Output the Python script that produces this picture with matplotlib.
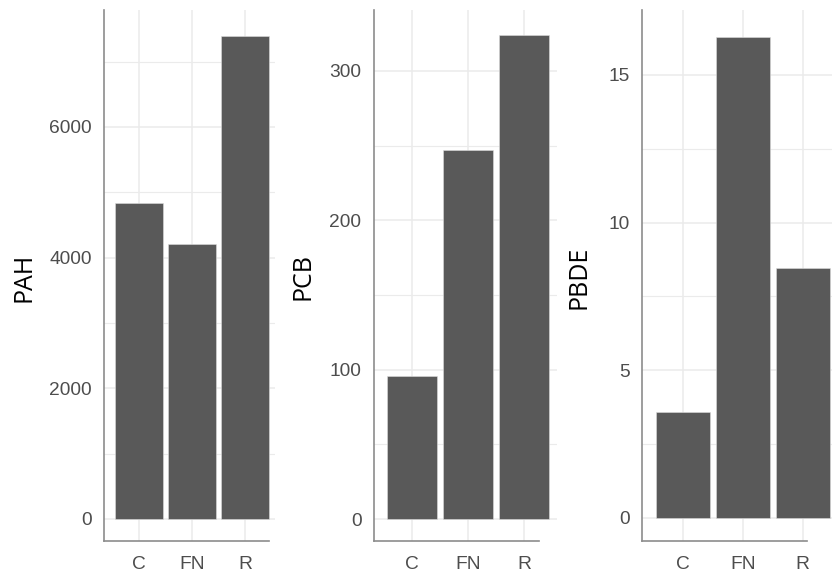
import matplotlib
matplotlib.use("Agg")
import matplotlib.pyplot as plt
from matplotlib.ticker import MultipleLocator

# data
categories = ["C", "FN", "R"]
pah = [4830, 4210, 7390]
pcb = [96, 247, 324]
pbde = [3.6, 16.3, 8.48]
labels = ["PAH", "PCB", "PBDE"]
tick_steps = [2000, 100, 5]

W, H = 832, 579
BAR = "#595959"
GRID = "#ebebeb"
AXIS = "#8c8c8c"
TXT = "#4d4d4d"

# pixel geometry of each panel (axis x, right edge, xlim, x-axis end, ylim, label x)
layout = [
    dict(left=104, right=275, xlim=(0.34, 3.57), xend=3.45, ylim=(-337, 7789), lab_x=24),
    dict(left=374, right=557, xlim=(0.32, 3.59), xend=3.27, ylim=(-14.7, 340.8), lab_x=303),
    dict(left=642, right=840, xlim=(0.32, 3.62), xend=3.07, ylim=(-0.78, 17.2), lab_x=579),
]
top, bottom = 10, 541

fig = plt.figure(figsize=(W / 100, H / 100), dpi=100)
fig.patch.set_facecolor("white")

for vals, lab, step, g in zip([pah, pcb, pbde], labels, tick_steps, layout):
    ax = fig.add_axes([g["left"] / W, 1 - bottom / H,
                       (g["right"] - g["left"]) / W, (bottom - top) / H])
    xs = range(1, len(categories) + 1)
    ax.bar(xs, vals, width=0.9, color=BAR, edgecolor="#dddddd", linewidth=0.4, zorder=3)
    ax.set_xlim(*g["xlim"])
    ax.set_ylim(*g["ylim"])
    ax.set_xticks(list(xs))
    ax.set_xticklabels(categories)
    ax.yaxis.set_major_locator(MultipleLocator(step))
    ax.yaxis.set_minor_locator(MultipleLocator(step / 2))
    ax.grid(True, which="major", color=GRID, linewidth=1.1, zorder=0)
    ax.grid(True, which="minor", axis="y", color=GRID, linewidth=0.8, zorder=0)
    ax.tick_params(which="both", length=0)
    ax.tick_params(axis="y", pad=9, labelsize=13.8, labelcolor=TXT)
    ax.tick_params(axis="x", pad=11, labelsize=13.8, labelcolor=TXT)
    for t in ax.get_xticklabels() + ax.get_yticklabels():
        t.set_fontfamily("Liberation Sans")
    for s in ["top", "right"]:
        ax.spines[s].set_visible(False)
    ax.spines["left"].set_color(AXIS)
    ax.spines["bottom"].set_color(AXIS)
    ax.spines["left"].set_linewidth(1.2)
    ax.spines["bottom"].set_linewidth(1.2)
    ax.spines["bottom"].set_bounds(g["xlim"][0], g["xend"])
    ax.set_facecolor("none")
    fig.text(g["lab_x"] / W, 1 - 277 / H, lab, rotation=90, ha="center", va="center",
             fontsize=18, family="Open Sans", color="black")

fig.savefig("out.png", dpi=100)
